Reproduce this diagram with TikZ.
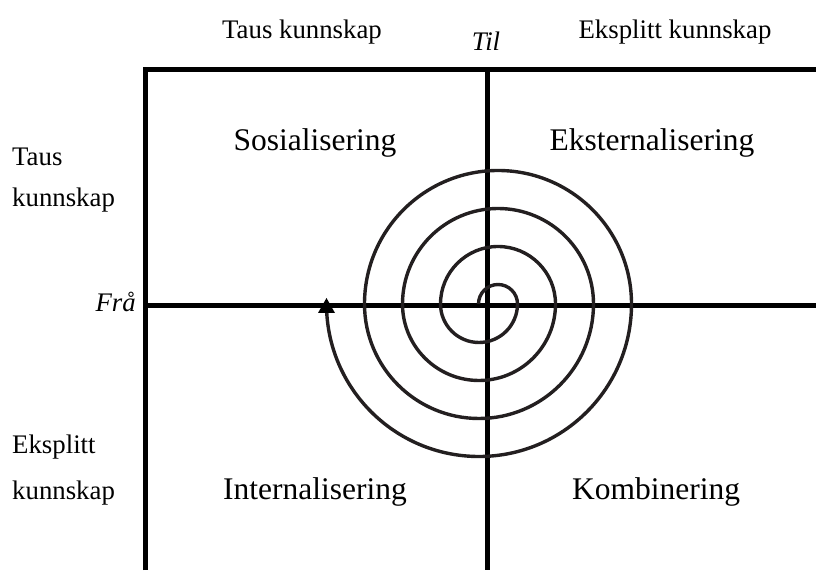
\documentclass[tikz,border=0pt]{standalone}
\usepackage{fontspec}
\setmainfont{Liberation Serif}
\definecolor{spiralc}{HTML}{231F20}
\begin{document}
\begin{tikzpicture}[x=1pt,y=1pt,
  lab/.style={font=\fontsize{26.8}{30}\selectfont, inner sep=0pt},
  ilab/.style={font=\fontsize{26.8}{30}\selectfont\itshape, inner sep=0pt},
  quad/.style={font=\fontsize{31.5}{36}\selectfont, inner sep=0pt},
  frame/.style={line width=5pt, black, line join=miter},
  spiral/.style={line width=3.4pt, spiralc}]
\useasboundingbox (0,0) rectangle (816,570);
% frame
\draw[frame] (145,0) -- (145,500) -- (816,500);
\draw[frame] (487,500) -- (487,0);
\draw[frame] (145,264) -- (816,264);
% spiral
\draw[spiral] (478.5,266)
  arc[start angle=180,end angle=0,radius=19.5]
  arc[start angle=0,end angle=-180,radius=38.5]
  arc[start angle=180,end angle=0,radius=57.5]
  arc[start angle=0,end angle=-180,radius=76.5]
  arc[start angle=180,end angle=0,radius=95.5]
  arc[start angle=0,end angle=-180,radius=114.5]
  arc[start angle=180,end angle=0,radius=133.5]
  arc[start angle=0,end angle=-180,radius=152.5];
\fill[black] (318,257) -- (335,257) -- (326.5,272) -- cycle;
% labels
\node[lab, anchor=base] (tt) at (302,531) {Taus kunnskap};
\node[ilab, anchor=base] (til) at (486,519) {Til};
\node[lab, anchor=base] (te) at (675,531) {Eksplitt kunnskap};
\node[lab, anchor=base west] (lt1) at (12,404) {Taus};
\node[lab, anchor=base west] (lt2) at (12,363) {kunnskap};
\node[ilab, anchor=base east] (fra) at (136,258) {Frå};
\node[lab, anchor=base west] (le1) at (12,116) {Eksplitt};
\node[lab, anchor=base west] (le2) at (12,70) {kunnskap};
\node[quad, anchor=base] (q1) at (315,419) {Sosialisering};
\node[quad, anchor=base] (q2) at (652,419) {Eksternalisering};
\node[quad, anchor=base] (q3) at (315,70) {Internalisering};
\node[quad, anchor=base] (q4) at (656,70) {Kombinering};
\end{tikzpicture}
\end{document}
